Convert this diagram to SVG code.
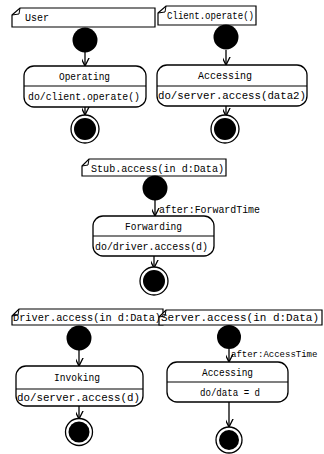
<svg xmlns="http://www.w3.org/2000/svg" width="324" height="454" viewBox="0 0 324 454">
<defs>
<marker id="open" markerUnits="userSpaceOnUse" markerWidth="16" markerHeight="16" viewBox="-8 -13 16 16" refX="0" refY="0" orient="auto-start-reverse">
<path d="M-6,-12 L0,0 L6,-12" fill="none" stroke="#000" stroke-width="1.3" transform="rotate(-90)"/>
</marker>
</defs>
<style>
.lbl{fill:#fff;stroke:#000;stroke-width:1.2}
.fold{fill:none;stroke:#000;stroke-width:1}
.st{fill:#fff;stroke:#000;stroke-width:1.3}
.div{stroke:#000;stroke-width:1.2}
.dot{fill:#000}
.fo{fill:#fff;stroke:#000;stroke-width:1.3}
.con{stroke:#000;stroke-width:1.3;fill:none;marker-end:url(#open)}
text{font-family:"Liberation Mono","Courier New",monospace;font-size:10px;fill:#000}
.c{text-anchor:middle}
</style>
<rect width="324" height="454" fill="#fff"/>

<g id="connectors">
<line class="con" x1="85" y1="52" x2="85" y2="66"/>
<line class="con" x1="85" y1="107" x2="85" y2="115"/>
<line class="con" x1="226" y1="50" x2="226" y2="65"/>
<line class="con" x1="226" y1="106" x2="226" y2="116"/>
<line class="con" x1="155" y1="200" x2="155" y2="216"/>
<line class="con" x1="154" y1="256" x2="154" y2="268"/>
<line class="con" x1="79" y1="350" x2="79" y2="366"/>
<line class="con" x1="79" y1="406" x2="79" y2="419"/>
<line class="con" x1="229" y1="349" x2="229" y2="362"/>
<line class="con" x1="229" y1="402" x2="229" y2="427"/>
<text x="159" y="213" textLength="101" lengthAdjust="spacingAndGlyphs">after:ForwardTime</text>
<text x="231" y="357" style="font-size:9px">after:AccessTime</text>
</g>

<g id="user">
<path class="lbl" d="M12,15 L20,8 L155,8 L155,27 L12,27 Z"/>
<path class="fold" d="M20,8 L19,14 L12,15"/>
<text x="25" y="21">User</text>
<circle class="dot" cx="85" cy="40" r="12.5"/>
<rect class="st" x="24" y="66" width="122" height="41" rx="10"/>
<line class="div" x1="24" y1="86" x2="146" y2="86"/>
<text x="59" y="80" textLength="51" lengthAdjust="spacingAndGlyphs">Operating</text>
<text x="28" y="100" textLength="112" lengthAdjust="spacingAndGlyphs">do/client.operate()</text>
<circle class="fo" cx="85" cy="129" r="14"/>
<circle class="dot" cx="85" cy="129" r="11"/>
</g>

<g id="client">
<path class="lbl" d="M158,13 L166,6 L256,6 L256,25 L158,25 Z"/>
<path class="fold" d="M166,6 L165,12 L158,13"/>
<text x="167" y="19" textLength="87" lengthAdjust="spacingAndGlyphs">Client.operate()</text>
<circle class="dot" cx="226" cy="37" r="12.5"/>
<rect class="st" x="157" y="65" width="150" height="41" rx="10"/>
<line class="div" x1="157" y1="86" x2="307" y2="86"/>
<text x="198" y="79" textLength="54" lengthAdjust="spacingAndGlyphs">Accessing</text>
<text x="158" y="99" textLength="148" lengthAdjust="spacingAndGlyphs">do/server.access(data2)</text>
<circle class="fo" cx="225" cy="129" r="14"/>
<circle class="dot" cx="225" cy="129" r="11"/>
</g>

<g id="stub">
<path class="lbl" d="M82,166 L89,159 L226,159 L226,176 L82,176 Z"/>
<path class="fold" d="M89,159 L88,165 L82,166"/>
<text x="91" y="172" textLength="133" lengthAdjust="spacingAndGlyphs">Stub.access(in d:Data)</text>
<circle class="dot" cx="155" cy="188" r="12.5"/>
<rect class="st" x="93" y="216" width="121" height="40" rx="10"/>
<line class="div" x1="93" y1="236" x2="214" y2="236"/>
<text x="125" y="230" textLength="57" lengthAdjust="spacingAndGlyphs">Forwarding</text>
<text x="95" y="250" textLength="113" lengthAdjust="spacingAndGlyphs">do/driver.access(d)</text>
<circle class="fo" cx="154" cy="281" r="14"/>
<circle class="dot" cx="154" cy="281" r="11"/>
</g>

<g id="driver">
<path class="lbl" d="M12,316 L19,309 L163,309 L163,325 L12,325 Z"/>
<path class="fold" d="M19,309 L18,315 L12,316"/>
<text x="13" y="321" textLength="148" lengthAdjust="spacingAndGlyphs">Driver.access(in d:Data)</text>
<circle class="dot" cx="79" cy="338" r="12.5"/>
<rect class="st" x="16" y="366" width="127" height="40" rx="10"/>
<line class="div" x1="16" y1="389" x2="143" y2="389"/>
<text x="54" y="381" textLength="46" lengthAdjust="spacingAndGlyphs">Invoking</text>
<text x="17" y="401" textLength="123" lengthAdjust="spacingAndGlyphs">do/server.access(d)</text>
<circle class="fo" cx="79" cy="432" r="13.5"/>
<circle class="dot" cx="79" cy="432" r="10.5"/>
</g>

<g id="server">
<path class="lbl" d="M159,317 L166,310 L322,310 L322,325 L159,325 Z"/>
<path class="fold" d="M166,310 L165,316 L159,317"/>
<text x="161" y="321" textLength="158" lengthAdjust="spacingAndGlyphs">Server.access(in d:Data)</text>
<circle class="dot" cx="229" cy="337" r="12"/>
<rect class="st" x="167" y="362" width="121" height="40" rx="10"/>
<line class="div" x1="167" y1="382" x2="288" y2="382"/>
<text x="202" y="376" textLength="51" lengthAdjust="spacingAndGlyphs">Accessing</text>
<text x="200" y="396" textLength="60" lengthAdjust="spacingAndGlyphs">do/data = d</text>
<circle class="fo" cx="229" cy="440" r="13"/>
<circle class="dot" cx="229" cy="440" r="10"/>
</g>
</svg>
